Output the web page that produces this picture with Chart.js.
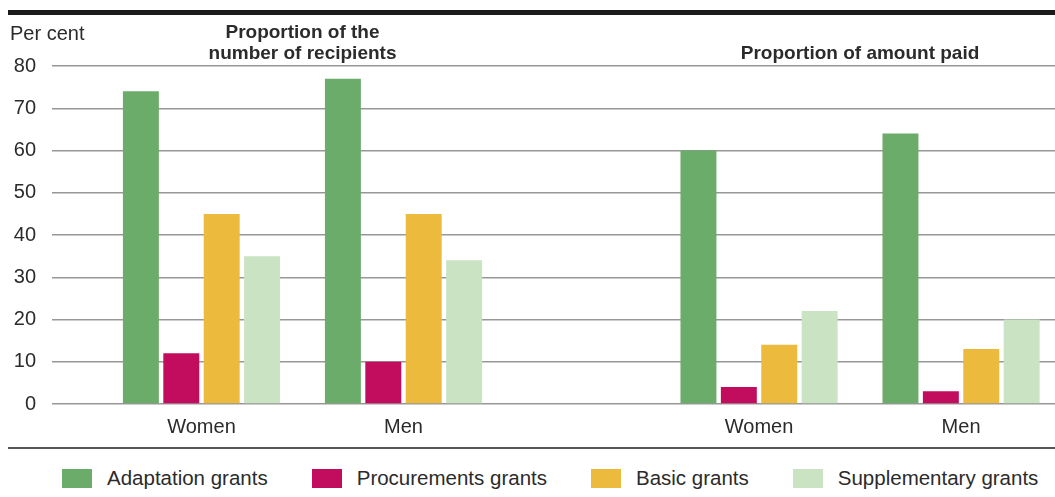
<!DOCTYPE html>
<html lang="en">
<head>
<meta charset="UTF-8">
<title>Grants by gender</title>
<script src="https://cdn.jsdelivr.net/npm/chart.js"></script>
<style>
  body { margin: 0; background: #fff; font-family: "Liberation Sans", Arial, sans-serif; color: #2b2b2b; }
  #wrap { position: relative; width: 1055px; height: 497px; overflow: hidden; }
  .top-rule { position: absolute; left: 8px; right: 0; top: 10px; height: 5px; background: #1b1b1b; }
  #chartBox { position: absolute; left: 0; top: 0; width: 1055px; height: 445px; }
  .base-rule { position: absolute; left: 8px; right: 0; top: 447px; height: 2px; background: #555; }
  #legend { position: absolute; left: 62px; top: 466px; display: flex; gap: 44px; font-size: 20.5px; }
  #legend .item { display: flex; align-items: center; }
  #legend .swatch { width: 30px; height: 19px; margin-right: 15px; }
</style>
</head>
<body>
<div id="wrap">
  <div class="top-rule"></div>
  <div id="chartBox"><canvas id="grants"></canvas></div>
  <div class="base-rule"></div>
  <div id="legend"></div>
</div>
<script>
  const groupLabels = ['Women', 'Men', 'Women', 'Men'];
  const seriesNames = ['Adaptation grants', 'Procurements grants', 'Basic grants', 'Supplementary grants'];
  const adaptation = [74, 77, 60, 64];
  const procurements = [12, 10, 4, 3];
  const basic = [45, 45, 14, 13];
  const supplementary = [35, 34, 22, 20];
  const yTicks = [0, 10, 20, 30, 40, 50, 60, 70, 80];
  const panelTitles = [['Proportion of the', 'number of recipients'], ['Proportion of amount paid']];

  const seriesColors = ['#6bac6a', '#c20d5e', '#ecbb3e', '#c9e3c3'];
  // x positions of the four groups; the two panels are separated by a wider gap
  const slotX = [0.74, 1.74, 3.5, 4.5];
  const FONT = '"Liberation Sans", Arial, sans-serif';

  const allSeries = [adaptation, procurements, basic, supplementary];
  const datasets = allSeries.map((vals, s) => ({
    label: seriesNames[s],
    data: vals.map((v, i) => ({ x: slotX[i], y: v })),
    backgroundColor: seriesColors[s],
    borderWidth: 0,
    categoryPercentage: 0.8,
    barPercentage: 0.89
  }));

  // "Per cent" and the two panel headings
  const panelText = {
    id: 'panelText',
    afterDraw(chart) {
      const { ctx, scales: { x } } = chart;
      ctx.save();
      ctx.fillStyle = '#2b2b2b';
      ctx.textBaseline = 'middle';
      ctx.textAlign = 'left';
      ctx.font = '20px ' + FONT;
      ctx.fillText('Per cent', 10, 34);
      ctx.font = 'bold 19px ' + FONT;
      ctx.textAlign = 'center';
      panelTitles.forEach((lines, p) => {
        const cx = (x.getPixelForValue(slotX[p * 2]) + x.getPixelForValue(slotX[p * 2 + 1])) / 2;
        lines.forEach((line, i) => {
          ctx.fillText(line, cx, 54 - (lines.length - 1 - i) * 21);
        });
      });
      ctx.restore();
    }
  };

  new Chart(document.getElementById('grants'), {
    type: 'bar',
    data: { datasets },
    plugins: [panelText],
    options: {
      responsive: true,
      maintainAspectRatio: false,
      animation: false,
      layout: { padding: { top: 66, right: 0, bottom: 0, left: 0 } },
      plugins: {
        legend: { display: false },
        tooltip: { enabled: false }
      },
      scales: {
        x: {
          type: 'linear',
          min: 0,
          max: 4.965,
          offset: false,
          grid: { display: false, offset: false },
          border: { display: false },
          afterBuildTicks(scale) {
            scale.ticks = slotX.map(v => ({ value: v }));
          },
          afterFit(scale) { scale.height = 41; },
          ticks: {
            padding: 3,
            color: '#2b2b2b',
            font: { family: FONT, size: 20 },
            callback: (val, i) => groupLabels[i]
          }
        },
        y: {
          min: 0,
          max: 80,
          afterBuildTicks(scale) {
            scale.ticks = yTicks.map(v => ({ value: v }));
          },
          afterFit(scale) { scale.width = 52; },
          grid: { color: '#979797', lineWidth: 1.4, drawTicks: false },
          border: { display: false },
          ticks: {
            padding: 16,
            color: '#2b2b2b',
            font: { family: FONT, size: 20 }
          }
        }
      }
    }
  });

  // legend row under the rule
  const legend = document.getElementById('legend');
  seriesNames.forEach((name, s) => {
    const item = document.createElement('div');
    item.className = 'item';
    const sw = document.createElement('span');
    sw.className = 'swatch';
    sw.style.background = seriesColors[s];
    const txt = document.createElement('span');
    txt.textContent = name;
    item.append(sw, txt);
    legend.appendChild(item);
  });
</script>
</body>
</html>
